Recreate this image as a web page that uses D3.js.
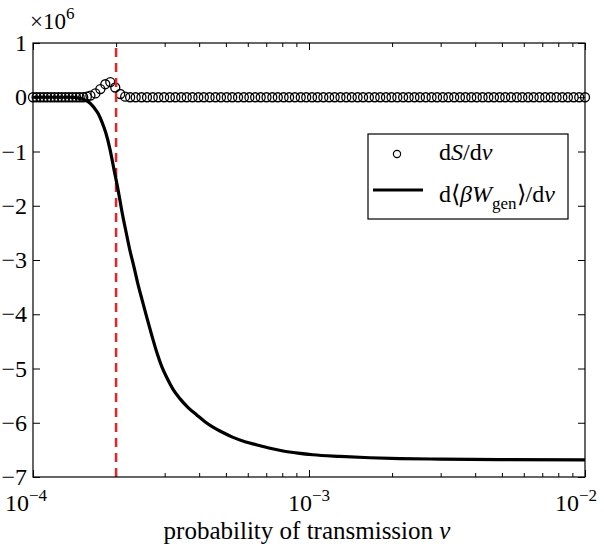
<!DOCTYPE html>
<html>
<head>
<meta charset="utf-8">
<script src="https://cdn.jsdelivr.net/npm/d3@7"></script>
<style>
  html, body { margin: 0; padding: 0; background: #fff; }
  svg { display: block; font-family: "Liberation Serif", "Times New Roman", serif; }
  svg text { font-family: "Liberation Serif", "Times New Roman", serif; }
</style>
</head>
<body>
<svg id="chart" width="604" height="547"></svg>
<script>
// ---- data ----
// log10 of transmission probability for the dS/dv circles
const circleExp = [
  -4.000, -3.987, -3.974, -3.961, -3.948, -3.935, -3.922, -3.909, -3.896, -3.883,
  -3.870, -3.857, -3.844, -3.831, -3.818, -3.805, -3.792,
  -3.774, -3.756, -3.738, -3.720, -3.702, -3.684, -3.666, -3.648,
  -3.628, -3.607, -3.587, -3.566, -3.546, -3.525, -3.504, -3.484, -3.463, -3.443,
  -3.422, -3.401, -3.381, -3.360, -3.339, -3.319, -3.298, -3.278, -3.257, -3.236,
  -3.216, -3.195, -3.175, -3.154, -3.133, -3.113, -3.092, -3.072, -3.051, -3.030,
  -3.010, -2.989, -2.969, -2.948, -2.927, -2.907, -2.886, -2.865, -2.845, -2.824,
  -2.804, -2.783, -2.762, -2.742, -2.721, -2.701, -2.680, -2.659, -2.639, -2.618,
  -2.598, -2.577, -2.556, -2.536, -2.515, -2.495, -2.474, -2.453, -2.433, -2.412,
  -2.392, -2.371, -2.350, -2.330, -2.309, -2.289, -2.268, -2.247, -2.227, -2.206,
  -2.186, -2.165, -2.144, -2.124, -2.103, -2.082, -2.062, -2.041, -2.021, -2.000
];
// dS/dv (x10^6)
const dSdv = [
  0, 0, 0, 0, 0, 0, 0, 0, 0, 0,
  0, 0, 0, 0, 0, 0.01, 0.03,
  0.07, 0.15, 0.24, 0.28, 0.18, 0.06, 0.01, 0,
  0, 0, 0, 0, 0, 0, 0, 0, 0, 0,
  0, 0, 0, 0, 0, 0, 0, 0, 0, 0,
  0, 0, 0, 0, 0, 0, 0, 0, 0, 0,
  0, 0, 0, 0, 0, 0, 0, 0, 0, 0,
  0, 0, 0, 0, 0, 0, 0, 0, 0, 0,
  0, 0, 0, 0, 0, 0, 0, 0, 0, 0,
  0, 0, 0, 0, 0, 0, 0, 0, 0, 0,
  0, 0, 0, 0, 0, 0, 0, 0, 0, 0
];
// log10 v for the d<beta W_gen>/dv curve
const lineExp = [
  -4.000, -3.866, -3.830, -3.808, -3.793, -3.779, -3.764, -3.750, -3.736, -3.721,
  -3.707, -3.692, -3.678, -3.663, -3.649, -3.634, -3.620, -3.605, -3.587, -3.569,
  -3.551, -3.533, -3.514, -3.493, -3.467, -3.438, -3.406, -3.377, -3.348, -3.312,
  -3.275, -3.232, -3.188, -3.141, -3.094, -3.040, -2.986, -2.888, -2.779, -2.670,
  -2.525, -2.308, -2.000
];
// d<beta W_gen>/dv (x10^6)
const dWdv = [
  0, 0, -0.02, -0.06, -0.11, -0.19, -0.30, -0.46, -0.66, -0.96,
  -1.32, -1.70, -2.10, -2.48, -2.82, -3.13, -3.44, -3.73, -4.07, -4.40,
  -4.71, -4.97, -5.18, -5.38, -5.56, -5.72, -5.86, -5.98, -6.08, -6.18,
  -6.27, -6.35, -6.41, -6.47, -6.52, -6.56, -6.59, -6.62, -6.645, -6.66,
  -6.67, -6.68, -6.685
];
const threshold = 2e-4;
const xDomain = [1e-4, 1e-2];
const yDomain = [-7, 1];
const yTicks = [1, 0, -1, -2, -3, -4, -5, -6, -7];
const xMajorExp = [-4, -3, -2];
const xMinorMult = [2, 3, 4, 5, 6, 7, 8, 9];

// ---- layout ----
const FONT = "Liberation Serif";
const W = 604, H = 547;
const m = { left: 33, right: 19, top: 43, bottom: 70 };
const iw = W - m.left - m.right, ih = H - m.top - m.bottom;
const svg = d3.select("#chart");
const g = svg.append("g").attr("transform", `translate(${m.left},${m.top})`);

const x = d3.scaleLog().domain(xDomain).range([0, iw]);
const y = d3.scaleLinear().domain(yDomain).range([ih, 0]);

const majors = xMajorExp.map(e => Math.pow(10, e));
const minors = [];
xMajorExp.slice(0, -1).forEach(e => xMinorMult.forEach(k => minors.push(k * Math.pow(10, e))));

const minus = s => String(s).replace("-", "\u2212");

// minor ticks (bottom/top)
g.append("g").attr("transform", `translate(0,${ih})`)
  .call(d3.axisBottom(x).tickValues(minors).tickSizeInner(-4).tickSizeOuter(0).tickFormat(""))
  .call(a => a.select(".domain").remove());
g.append("g")
  .call(d3.axisTop(x).tickValues(minors).tickSizeInner(-4).tickSizeOuter(0).tickFormat(""))
  .call(a => a.select(".domain").remove());
// major x ticks
g.append("g").attr("transform", `translate(0,${ih})`)
  .call(d3.axisBottom(x).tickValues(majors).tickSizeInner(-7).tickSizeOuter(0).tickFormat(""))
  .call(a => a.select(".domain").remove());
g.append("g")
  .call(d3.axisTop(x).tickValues(majors).tickSizeInner(-7).tickSizeOuter(0).tickFormat(""))
  .call(a => a.select(".domain").remove());

// y axes
const yl = g.append("g")
  .call(d3.axisLeft(y).tickValues(yTicks).tickSizeInner(-7).tickSizeOuter(0).tickPadding(6).tickFormat(d => minus(d)));
yl.attr("font-family", FONT).attr("font-size", 24);
yl.select(".domain").remove();
yl.selectAll("text").attr("fill", "#000");
g.append("g").attr("transform", `translate(${iw},0)`)
  .call(d3.axisRight(y).tickValues(yTicks).tickSizeInner(-7).tickSizeOuter(0).tickFormat(""))
  .call(a => a.select(".domain").remove());

g.selectAll(".tick line").attr("stroke", "#000").attr("stroke-width", 1);

// x tick labels 10^e
xMajorExp.forEach((e, i) => {
  const px = x(Math.pow(10, e));
  let dx = 0;
  if (i === 0) { dx = -7; }
  if (i === xMajorExp.length - 1) { dx = -9; }
  const t = g.append("text").attr("x", px + dx).attr("y", ih + 34)
    .attr("text-anchor", "middle").attr("font-family", FONT).attr("font-size", 24).attr("fill", "#000");
  t.append("tspan").text("10");
  t.append("tspan").attr("dy", -10).attr("font-size", 17).text(minus(e));
});

// axis title
const xt = g.append("text").attr("x", iw / 2 - 2).attr("y", ih + 62)
  .attr("text-anchor", "middle").attr("font-family", FONT).attr("font-size", 25).attr("fill", "#000");
xt.append("tspan").text("probability of transmission ");
xt.append("tspan").attr("font-style", "italic").text("v");

// x10^6
const mult = svg.append("text").attr("x", 30).attr("y", 29).attr("font-family", FONT)
  .attr("font-size", 23).attr("fill", "#000");
mult.append("tspan").text("\u00d710");
mult.append("tspan").attr("dy", -10).attr("font-size", 17).text("6");

// circles
g.append("g").selectAll("circle").data(circleExp).join("circle")
  .attr("cx", e => x(Math.pow(10, e)))
  .attr("cy", (e, i) => y(dSdv[i]))
  .attr("r", 4.5)
  .attr("fill", "none").attr("stroke", "#000").attr("stroke-width", 1.3);

// threshold line
g.append("line")
  .attr("x1", x(threshold)).attr("x2", x(threshold))
  .attr("y1", ih).attr("y2", 0)
  .attr("stroke", "#e3262b").attr("stroke-width", 2.5).attr("stroke-dasharray", "9,6");

// curve
const line = d3.line()
  .x(e => x(Math.pow(10, e)))
  .y((e, i) => y(dWdv[i]))
  .curve(d3.curveMonotoneX);
g.append("path").datum(lineExp).attr("d", line)
  .attr("fill", "none").attr("stroke", "#000").attr("stroke-width", 3.2);

// frame
g.append("rect").attr("x", 0).attr("y", 0).attr("width", iw).attr("height", ih)
  .attr("fill", "none").attr("stroke", "#000").attr("stroke-width", 1.2);

// legend
const lg = svg.append("g").attr("font-family", FONT);
lg.append("rect").attr("x", 368).attr("y", 134).attr("width", 200).attr("height", 85)
  .attr("fill", "#fff").attr("stroke", "#000").attr("stroke-width", 1.2);
lg.append("circle").attr("cx", 397).attr("cy", 154).attr("r", 3.6)
  .attr("fill", "none").attr("stroke", "#000").attr("stroke-width", 1.2);
lg.append("line").attr("x1", 373).attr("x2", 423).attr("y1", 190).attr("y2", 190)
  .attr("stroke", "#000").attr("stroke-width", 3.2);
const t1 = lg.append("text").attr("x", 439).attr("y", 160).attr("font-size", 24).attr("fill", "#000");
t1.append("tspan").text("d");
t1.append("tspan").attr("font-style", "italic").text("S");
t1.append("tspan").text("/d");
t1.append("tspan").attr("font-style", "italic").text("v");
const t2 = lg.append("text").attr("x", 439).attr("y", 202).attr("font-size", 24).attr("fill", "#000");
t2.append("tspan").text("d\u27e8");
t2.append("tspan").attr("font-style", "italic").text("\u03b2W");
t2.append("tspan").attr("font-size", 17).attr("dy", 7).text("gen");
t2.append("tspan").attr("dy", -7).text("\u27e9/d");
t2.append("tspan").attr("font-style", "italic").text("v");
</script>
</body>
</html>
